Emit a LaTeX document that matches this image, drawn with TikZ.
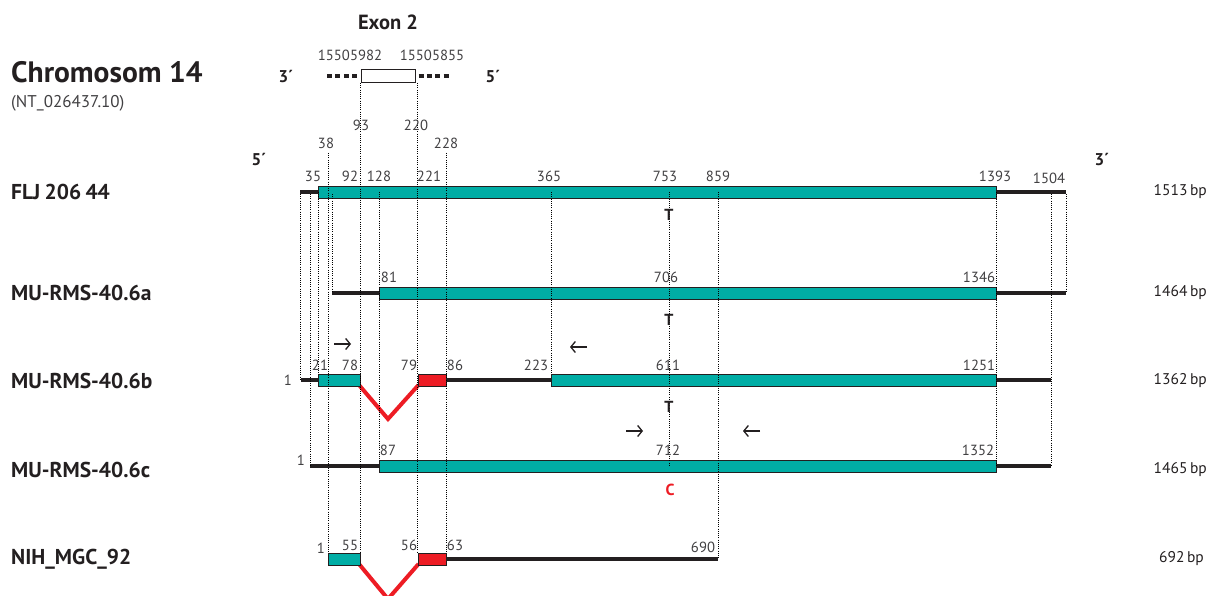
\documentclass[tikz,border=0pt]{standalone}
\usepackage{fontspec}
\setmainfont{PT Sans}
\usetikzlibrary{arrows.meta}
\definecolor{tealc}{RGB}{0,173,165}
\definecolor{redc}{RGB}{237,28,36}
\definecolor{darkc}{RGB}{35,31,32}
\definecolor{numc}{RGB}{65,64,66}
\begin{document}
\begin{tikzpicture}[x=1pt,y=-1pt,
  num/.style={font=\fontsize{14.7}{15}\selectfont, text=numc, inner sep=0pt},
  rowlab/.style={font=\bfseries\fontsize{21.5}{22}\selectfont, text=darkc, anchor=west, inner sep=0pt},
  bplab/.style={font=\fontsize{15.5}{16}\selectfont, text=darkc, anchor=east, inner sep=0pt},
  primelab/.style={font=\bfseries\fontsize{17}{17}\selectfont, text=darkc, inner sep=0pt},
  base/.style={text=darkc, font=\bfseries\fontsize{16}{16}\selectfont, inner sep=0pt},
  primer/.style={draw=darkc, line width=1.3pt, -{Straight Barb[length=4.5pt,width=11pt,line width=1.3pt]}},
  bk/.style={draw=darkc, line width=4pt},
  tealbox/.style={fill=tealc, draw=darkc, line width=0.8pt},
  redbox/.style={fill=redc, draw=darkc, line width=0.8pt},
  redv/.style={draw=redc, line width=4pt, line join=miter},
  dots/.style={draw=black, line width=0.6pt, dash pattern=on 1pt off 1.2pt},
  sq/.style={draw=darkc, line width=4.5pt, dash pattern=on 5pt off 3.4pt}
]
\useasboundingbox (0,0) rectangle (1209,596);
\clip (0,0) rectangle (1209,596);

% titles
\node[anchor=west, inner sep=0pt, text=darkc, font=\bfseries\fontsize{29.5}{30}\selectfont] (chr) at (11,72) {Chromosom 14};
\node[anchor=west, inner sep=0pt, text=numc, font=\fontsize{17}{17}\selectfont] (nt) at (11,103) {(NT\_026437.10)};
\node[text=darkc, inner sep=0pt, font=\bfseries\fontsize{20.5}{21}\selectfont] (exon) at (388,22) {Exon 2};

% exon 2 genomic
\path[sq] (327,76) -- (358,76);
\path[sq] (418.5,76) -- (451,76);
\draw[fill=white, draw=darkc, line width=1pt] (361,69.5) rectangle (415.5,82.5);
\node[num] (g1) at (350,55) {15505982};
\node[num] (g2) at (432,55) {15505855};
\node[primelab] (p3a) at (286,77) {3´};
\node[primelab] (p5a) at (493,77) {5´};
\node[primelab] (p5b) at (259,159) {5´};
\node[primelab] (p3b) at (1102,159) {3´};

% row labels
\node[rowlab] (r1) at (11,192) {FLJ\hspace{0.2em}206\hspace{0.2em}44};
\node[rowlab] (r2) at (11,293) {MU-RMS-40.6a};
\node[rowlab] (r3) at (11,381) {MU-RMS-40.6b};
\node[rowlab] (r4) at (11,470) {MU-RMS-40.6c};
\node[rowlab] (r5) at (11,559) {NIH\_MGC\_92};

\node[bplab] (b1) at (1207,192) {1513\,bp};
\node[bplab] (b2) at (1207,293) {1464\,bp};
\node[bplab] (b3) at (1207,381) {1362\,bp};
\node[bplab] (b4) at (1207,470) {1465\,bp};
\node[bplab] (b5) at (1204,559) {692\,bp};

% FLJ 206 44
\path[bk] (300,192) -- (318,192);
\path[bk] (996,192) -- (1066,192);
\path[tealbox] (318,186) rectangle (996,198.5);

% MU-RMS-40.6a
\path[bk] (332,293) -- (379,293);
\path[bk] (996,293) -- (1066,293);
\path[tealbox] (379,287) rectangle (996,299.5);

% MU-RMS-40.6b
\path[bk] (301,380) -- (318,380);
\path[bk] (446,380) -- (551,380);
\path[bk] (996,380) -- (1051,380);
\path[redv] (359,385) -- (388,419) -- (418.5,385);
\path[tealbox] (318,374) rectangle (360,386.5);
\path[redbox] (418,374) rectangle (446,386.5);
\path[tealbox] (551,374) rectangle (996,386.5);

% MU-RMS-40.6c
\path[bk] (310,466) -- (379,466);
\path[bk] (996,466) -- (1051,466);
\path[tealbox] (379,460) rectangle (996,472.5);

% NIH_MGC_92
\path[bk] (446,559) -- (718,559);
\path[redv] (359,564) -- (388,599) -- (418.5,564);
\path[tealbox] (328,553) rectangle (360,565.5);
\path[redbox] (418,553) rectangle (446,565.5);

% dotted guide lines
\path[dots] (300,194) -- (300,380);
\path[dots] (310,194) -- (310,466);
\path[dots] (318,192) -- (318,374);
\path[dots] (328,153) -- (328,553);
\path[dots] (332,194) -- (332,293);
\path[dots] (360.5,83) -- (360.5,553);
\path[dots] (379,192) -- (379,460);
\path[dots] (417,83) -- (417,553);
\path[dots] (446,153) -- (446,553);
\path[dots] (551,192) -- (551,374);
\path[dots] (669,192) -- (669,466);
\path[dots] (718,192) -- (718,559);
\path[dots] (996,192) -- (996,466);
\path[dots] (1051,194) -- (1051,466);
\path[dots] (1066,194) -- (1066,293);

% numbers above
\node[num] (n93) at (361,125) {93};
\node[num] (n220) at (416,125) {220};
\node[num] (n38) at (326,143) {38};
\node[num] (n228) at (446,143) {228};

% FLJ numbers
\node[num] (f35) at (313,176) {35};
\node[num] (f92) at (350,176) {92};
\node[num] (f128) at (379,176) {128};
\node[num] (f221) at (429,176) {221};
\node[num] (f365) at (549,176) {365};
\node[num] (f753) at (665,176) {753};
\node[num] (f859) at (718,176) {859};
\node[num] (f1393) at (995,176) {1393};
\node[num] (f1504) at (1049,178) {1504};

% 6.6a numbers
\node[num] (a81) at (389,277) {81};
\node[num] (a706) at (666,277) {706};
\node[num] (a1346) at (979,277) {1346};

% 6.6b numbers
\node[num] (b1n) at (288,380) {1};
\node[num] (b21) at (320,365) {21};
\node[num] (b78) at (350,365) {78};
\node[num] (b79) at (409,365) {79};
\node[num] (b86) at (455,365) {86};
\node[num] (b223) at (536,365) {223};
\node[num] (b611) at (668,365) {611};
\node[num] (b1251) at (979,365) {1251};

% 6.6c numbers
\node[num] (c1n) at (301,460) {1};
\node[num] (c87) at (388,450) {87};
\node[num] (c712) at (668,450) {712};
\node[num] (c1352) at (978,450) {1352};

% NIH numbers
\node[num] (d1n) at (321,548) {1};
\node[num] (d55) at (350,545) {55};
\node[num] (d56) at (409,545) {56};
\node[num] (d63) at (455,545) {63};
\node[num] (d690) at (703,547) {690};

% bases
\node[base] (t1) at (669,215) {T};
\node[base] (t2) at (669,320) {T};
\node[base] (t3) at (669,407) {T};
\node[base, text=redc] (c1) at (670,490) {C};

% primer arrows
\coordinate (pa1s) at (334,344); \coordinate (pa1e) at (351,344);
\coordinate (pa2s) at (587,347); \coordinate (pa2e) at (570,347);
\coordinate (pa3s) at (626,431); \coordinate (pa3e) at (643,431);
\coordinate (pa4s) at (760,431); \coordinate (pa4e) at (743,431);
\draw[primer] (pa1s) -- (pa1e);
\draw[primer] (pa2s) -- (pa2e);
\draw[primer] (pa3s) -- (pa3e);
\draw[primer] (pa4s) -- (pa4e);
\end{tikzpicture}
\end{document}
